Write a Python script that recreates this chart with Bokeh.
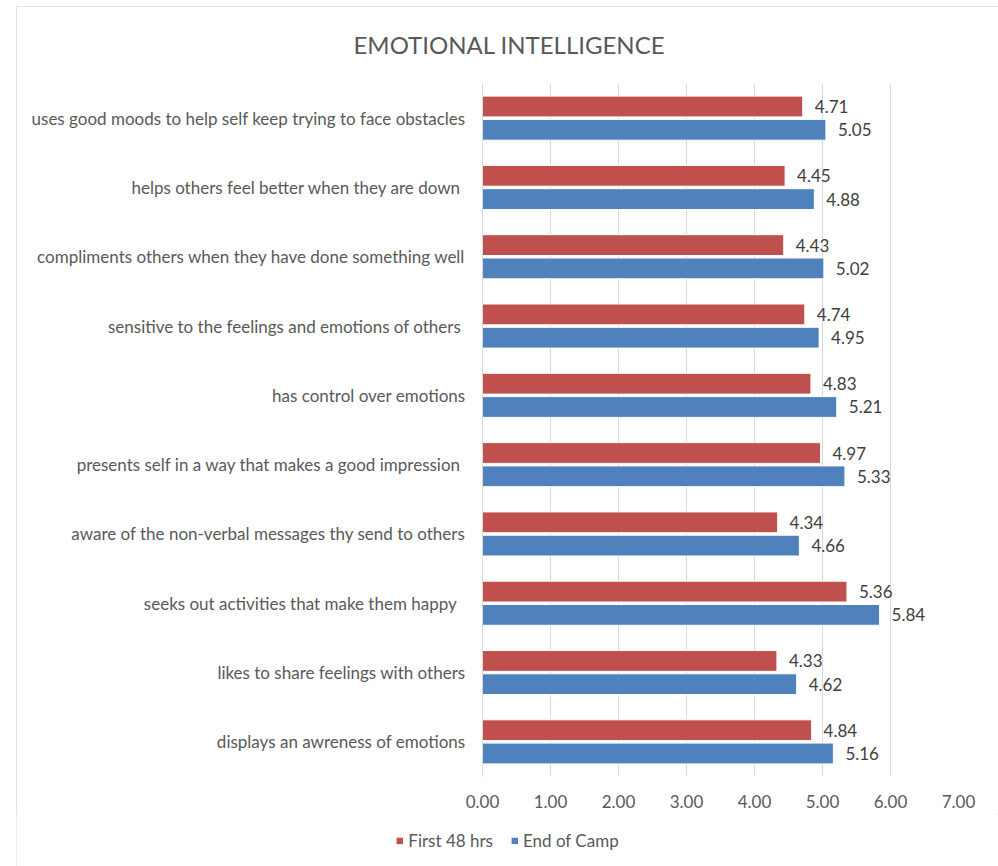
from bokeh.plotting import figure
from bokeh.layouts import column
from bokeh.models import (ColumnDataSource, FactorRange, Range1d, Legend, LegendItem,
                          FixedTicker, NumeralTickFormatter)
from bokeh.transform import dodge
from bokeh.core.properties import value
from bokeh.embed import file_html
from bokeh.resources import INLINE

# Data (top to bottom as shown in chart)
categories = [
    "uses good moods to help self keep trying to face obstacles",
    "helps others feel better when they are down ",
    "compliments others when they have done something well",
    "sensitive to the feelings and emotions of others ",
    "has control over emotions",
    "presents self in a way that makes a good impression ",
    "aware of the non-verbal messages thy send to others",
    "seeks  out activities that make them happy ",
    "likes to share feelings with others",
    "displays an awreness of emotions",
]
first_48_hrs = [4.71, 4.45, 4.43, 4.74, 4.83, 4.97, 4.34, 5.36, 4.33, 4.84]
end_of_camp = [5.05, 4.88, 5.02, 4.95, 5.21, 5.33, 4.66, 5.84, 4.62, 5.16]
x_ticks = [0, 1, 2, 3, 4, 5, 6, 7]
series_names = ["First 48 hrs", "End of Camp"]

FONT = "Lato"
GREY = "#595959"
RED = "#C0504D"
BLUE = "#4F81BD"

src = ColumnDataSource(dict(
    cat=categories,
    first=first_48_hrs,
    end=end_of_camp,
    first_lbl=[f"{v:.2f}" for v in first_48_hrs],
    end_lbl=[f"{v:.2f}" for v in end_of_camp],
))

p = figure(
    width=982, height=808,
    y_range=FactorRange(factors=list(reversed(categories))),
    x_range=Range1d(0, 7),
    output_backend="svg", toolbar_location=None,
    min_border_left=466, min_border_right=40, min_border_top=76, min_border_bottom=38,
)
p.frame_align = False
p.outline_line_color = None
p.background_fill_color = "white"
p.border_fill_color = "white"

# Title
p.title.text = "EMOTIONAL INTELLIGENCE"
p.title.align = "left"
p.title.offset = -129
p.title.vertical_align = "top"
p.title.text_font = FONT
p.title.text_font_size = "24px"
p.title.text_font_style = "normal"
p.title.text_color = GREY
p.title.standoff = 46

r1 = p.hbar(y=dodge("cat", 0.168, range=p.y_range), left=0, right="first", height=0.30,
            fill_color=RED, line_color="white", line_width=1, source=src)
r2 = p.hbar(y=dodge("cat", -0.168, range=p.y_range), left=0, right="end", height=0.30,
            fill_color=BLUE, line_color="white", line_width=1, source=src)

p.text(x="first", y=dodge("cat", 0.168, range=p.y_range), text="first_lbl", source=src,
       x_offset=12, text_baseline="middle", text_align="left",
       text_font=value(FONT), text_font_size="17px", text_color="#404040")
p.text(x="end", y=dodge("cat", -0.168, range=p.y_range), text="end_lbl", source=src,
       x_offset=12, text_baseline="middle", text_align="left",
       text_font=value(FONT), text_font_size="17px", text_color="#404040")

# Axes
p.xaxis.ticker = FixedTicker(ticks=x_ticks)
p.xaxis.formatter = NumeralTickFormatter(format="0.00")
p.xaxis.axis_line_color = None
p.xaxis.major_tick_line_color = None
p.xaxis.minor_tick_line_color = None
p.xaxis.major_label_standoff = 12
p.xaxis.major_label_text_font = FONT
p.xaxis.major_label_text_font_size = "17px"
p.xaxis.major_label_text_color = GREY

p.yaxis.axis_line_color = "#d9d9d9"
p.yaxis.major_tick_line_color = None
p.yaxis.minor_tick_line_color = None
p.yaxis.major_label_standoff = 11
p.yaxis.major_label_text_font = FONT
p.yaxis.major_label_text_font_size = "17px"
p.yaxis.major_label_text_color = GREY

p.xgrid.grid_line_color = "#d9d9d9"
p.ygrid.grid_line_color = None

# Legend strip (centred under the whole chart, like the original)
pl = figure(
    width=982, height=52, x_range=Range1d(0, 1), y_range=Range1d(0, 1),
    output_backend="svg", toolbar_location=None,
    min_border_left=0, min_border_right=0, min_border_top=0, min_border_bottom=0,
)
pl.frame_align = False
pl.axis.visible = False
pl.grid.visible = False
pl.outline_line_color = None
pl.border_fill_color = "white"
# legend proxies: same data, but lying outside this strip's ranges, so only their legend swatches show
l1 = pl.hbar(y="first", left="first", right="end", height=0.3, fill_color=RED, line_color=None, source=src)
l2 = pl.hbar(y="end", left="first", right="end", height=0.3, fill_color=BLUE, line_color=None, source=src)

legend = Legend(
    items=[LegendItem(label=series_names[0], renderers=[l1]),
           LegendItem(label=series_names[1], renderers=[l2])],
    orientation="horizontal", location="center",
    margin=0, padding=0, spacing=17, label_standoff=5,
    glyph_width=8, glyph_height=8,
    label_text_font=FONT, label_text_font_size="17px", label_text_color=GREY,
    border_line_color=None, background_fill_alpha=0,
)
pl.add_layout(legend, "center")

layout = column(p, pl, margin=(6, 0, 0, 16), spacing=0,
                styles={"outline": "2px solid #d9d9d9", "outline-offset": "-2px"})

open("out.html", "w").write(file_html(layout, INLINE))
